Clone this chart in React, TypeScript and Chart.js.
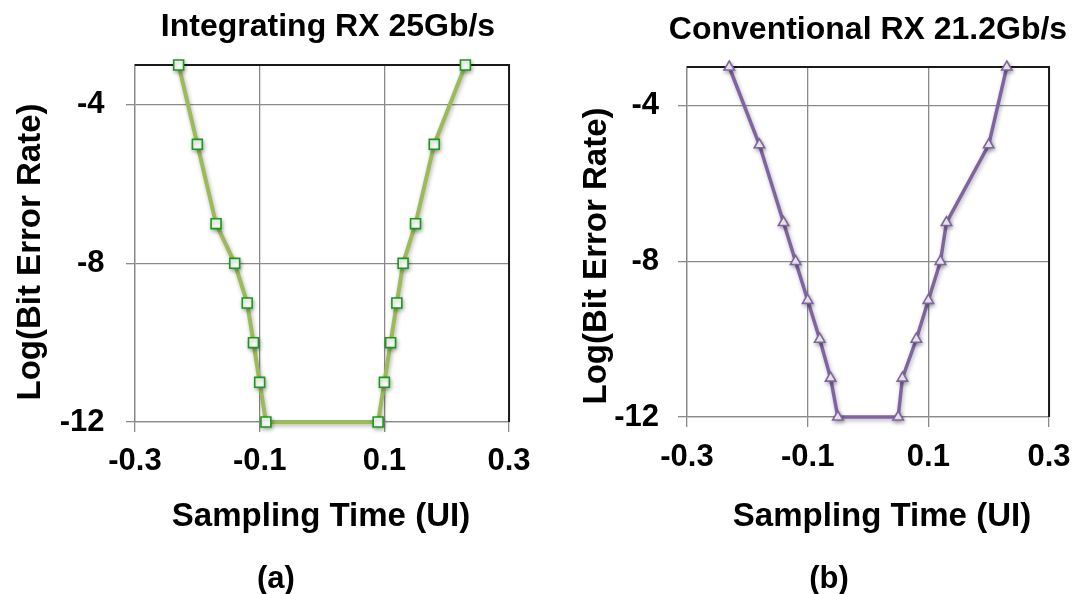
import React, { useEffect, useRef } from 'react';
import { Chart, registerables } from 'chart.js';

Chart.register(...registerables);

// ---- data ----
const INT_X = [-0.23, -0.2, -0.17, -0.14, -0.12, -0.11, -0.1, -0.09, 0.09, 0.1, 0.11, 0.12, 0.13, 0.15, 0.18, 0.23];
const INT_Y = [-3, -5, -7, -8, -9, -10, -11, -12, -12, -11, -10, -9, -8, -7, -5, -3];
const CONV_X = [-0.23, -0.18, -0.14, -0.12, -0.1, -0.08, -0.062, -0.05, 0.05, 0.057, 0.08, 0.1, 0.12, 0.13, 0.2, 0.23];
const CONV_Y = [-3, -5, -7, -8, -9, -10, -11, -12, -12, -11, -10, -9, -8, -7, -5, -3];
const X_TICKS = [-0.3, -0.1, 0.1, 0.3];
const X_TICK_LABELS = ['-0.3', '-0.1', '0.1', '0.3'];
const Y_TICKS = [-12, -8, -4];
const Y_TICK_LABELS = ['-12', '-8', '-4'];
const X_RANGE = [-0.3, 0.3];
const Y_RANGE = [-12, -3];
const TITLES = ['Integrating RX 25Gb/s', 'Conventional RX 21.2Gb/s'];
const X_TITLE = 'Sampling Time (UI)';
const Y_TITLE = 'Log(Bit Error Rate)';
const CAPTIONS = ['(a)', '(b)'];

const FAMILY = '"Liberation Sans", Arial, Helvetica, sans-serif';

type Pt = [number, number];
type Panel = {
  xs: number[];
  ys: number[];
  title: string;
  caption: string;
  lineColor: string;
  markerColor: string;
  lineWidth: number;
  pointStyle: 'rect' | 'triangle';
  pointRadius: number;
  left: number;
  plotTop: number;
  yAxisW: number;
  padR: number;
  xAxisH: number;
  xTickPad: number;
  yTickPad: number;
  titleAt: Pt;
  xTitleAt: Pt;
  yTitleAt: Pt;
  captionAt: Pt;
};

const PANELS: Panel[] = [
  {
    xs: INT_X, ys: INT_Y, title: TITLES[0], caption: CAPTIONS[0],
    lineColor: '#9BBB59', markerColor: '#1a9a1a', lineWidth: 4,
    pointStyle: 'rect', pointRadius: 7,
    left: 0, plotTop: 65, yAxisW: 135, padR: 30, xAxisH: 172,
    xTickPad: 10.4, yTickPad: 21.5,
    titleAt: [328, 24.5], xTitleAt: [321, 515], yTitleAt: [28.5, 251.5], captionAt: [276, 577],
  },
  {
    xs: CONV_X, ys: CONV_Y, title: TITLES[1], caption: CAPTIONS[1],
    lineColor: '#8064A2', markerColor: '#8064A2', lineWidth: 3.5,
    pointStyle: 'triangle', pointRadius: 6,
    left: 541, plotTop: 67, yAxisW: 146, padR: 27, xAxisH: 177,
    xTickPad: 11.4, yTickPad: 19,
    titleAt: [868, 28], xTitleAt: [882, 515], yTitleAt: [595, 256], captionAt: [829, 577],
  },
];

const framePlugin = {
  id: 'frame',
  beforeDatasetsDraw(chart: any) {
    const { ctx, chartArea: a } = chart;
    ctx.save();
    ctx.strokeStyle = '#1a1a1a';
    ctx.lineWidth = 2;
    ctx.beginPath();
    ctx.moveTo(a.left, a.top);
    ctx.lineTo(a.right, a.top);
    ctx.lineTo(a.right, a.bottom);
    ctx.stroke();
    ctx.restore();
  },
};

const shadowPlugin = {
  id: 'softShadow',
  beforeDatasetDraw(chart: any) {
    const ctx = chart.ctx;
    ctx.save();
    ctx.shadowColor = 'rgba(0,0,0,0.3)';
    ctx.shadowBlur = 4;
    ctx.shadowOffsetX = 1;
    ctx.shadowOffsetY = 2;
  },
  afterDatasetDraw(chart: any) {
    chart.ctx.restore();
  },
};

function Label({ text, at, size, rotate }: { text: string; at: Pt; size: number; rotate?: boolean }) {
  const lh = Math.round(size * 1.2);
  return (
    <div
      style={{
        position: 'absolute',
        left: at[0] - 300,
        top: at[1] - lh / 2,
        width: 600,
        height: lh,
        lineHeight: `${lh}px`,
        textAlign: 'center',
        whiteSpace: 'nowrap',
        fontFamily: FAMILY,
        fontWeight: 'bold',
        fontSize: size,
        color: '#000',
        pointerEvents: 'none',
        transform: rotate ? 'rotate(-90deg)' : undefined,
        transformOrigin: 'center center',
      }}
    >
      {text}
    </div>
  );
}

function PanelChart({ p }: { p: Panel }) {
  const ref = useRef<HTMLCanvasElement | null>(null);
  useEffect(() => {
    if (!ref.current) return;
    const tickFont = { family: FAMILY, size: 31, weight: 'bold' as const, lineHeight: 1.2 };
    const chart = new Chart(ref.current, {
      type: 'scatter',
      data: {
        datasets: [
          {
            data: p.xs.map((x, i) => ({ x, y: p.ys[i] })),
            showLine: true,
            borderColor: p.lineColor,
            borderWidth: p.lineWidth,
            tension: 0,
            pointStyle: p.pointStyle,
            pointRadius: p.pointRadius,
            pointBorderColor: p.markerColor,
            pointBackgroundColor: '#ffffff',
            pointBorderWidth: 1.6,
            clip: false as any,
          },
        ],
      },
      options: {
        responsive: false,
        animation: false,
        layout: { padding: { left: 0, right: p.padR, top: p.plotTop, bottom: 0 } },
        plugins: {
          legend: { display: false },
          tooltip: { enabled: false },
          title: { display: false },
        },
        scales: {
          x: {
            type: 'linear',
            min: X_RANGE[0],
            max: X_RANGE[1],
            afterBuildTicks: (s: any) => {
              s.ticks = X_TICKS.map((v) => ({ value: v }));
            },
            afterFit: (s: any) => {
              s.height = p.xAxisH;
            },
            ticks: {
              autoSkip: false,
              maxRotation: 0,
              color: '#000',
              font: tickFont,
              padding: p.xTickPad,
              callback: (_v: any, i: number) => X_TICK_LABELS[i],
            },
            grid: { color: '#8a8a8a', lineWidth: 1.3, tickLength: 10, drawTicks: true },
            border: { display: true, color: '#8a8a8a', width: 1.3 },
            title: { display: false },
          },
          y: {
            type: 'linear',
            min: Y_RANGE[0],
            max: Y_RANGE[1],
            afterBuildTicks: (s: any) => {
              s.ticks = Y_TICKS.map((v) => ({ value: v }));
            },
            afterFit: (s: any) => {
              s.width = p.yAxisW;
            },
            ticks: {
              autoSkip: false,
              color: '#000',
              font: tickFont,
              padding: p.yTickPad,
              callback: (_v: any, i: number) => Y_TICK_LABELS[i],
            },
            grid: { color: '#8a8a8a', lineWidth: 1.3, tickLength: 9, drawTicks: true },
            border: { display: true, color: '#8a8a8a', width: 1.3 },
            title: { display: false },
          },
        },
      } as any,
      plugins: [framePlugin, shadowPlugin],
    });
    return () => chart.destroy();
  }, [p]);

  return (
    <>
      <canvas
        ref={ref}
        width={541}
        height={594}
        style={{ position: 'absolute', left: p.left, top: 0, width: 541, height: 594 }}
      />
      <Label text={p.title} at={p.titleAt} size={32} />
      <Label text={X_TITLE} at={p.xTitleAt} size={33} />
      <Label text={Y_TITLE} at={p.yTitleAt} size={33} rotate />
      <Label text={p.caption} at={p.captionAt} size={31} />
    </>
  );
}

export default function App() {
  return (
    <div
      style={{
        position: 'absolute',
        left: 0,
        top: 0,
        width: 1082,
        height: 594,
        background: '#ffffff',
        overflow: 'hidden',
      }}
    >
      {PANELS.map((p) => (
        <PanelChart key={p.title} p={p} />
      ))}
    </div>
  );
}
